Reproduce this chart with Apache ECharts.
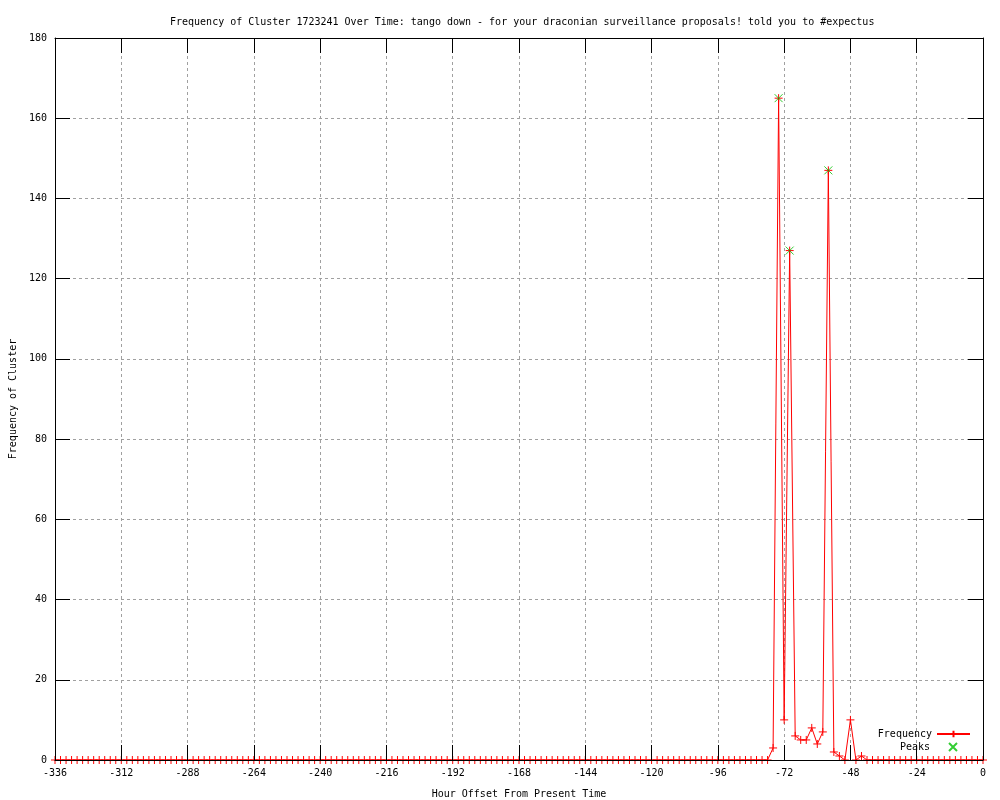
<!DOCTYPE html>
<html>
<head>
<meta charset="utf-8">
<script src="https://cdn.jsdelivr.net/npm/echarts@6/dist/echarts.min.js"></script>
<style>html,body{margin:0;padding:0;background:#fff}#c{width:1000px;height:800px}</style>
</head>
<body>
<div id="c"></div>
<script>
var titleText = 'Frequency of Cluster 1723241 Over Time: tango down - for your draconian surveillance proposals! told you to #expectus';
var hours = [-336,-334,-332,-330,-328,-326,-324,-322,-320,-318,-316,-314,-312,-310,-308,-306,-304,-302,-300,-298,-296,-294,-292,-290,-288,-286,-284,-282,-280,-278,-276,-274,-272,-270,-268,-266,-264,-262,-260,-258,-256,-254,-252,-250,-248,-246,-244,-242,-240,-238,-236,-234,-232,-230,-228,-226,-224,-222,-220,-218,-216,-214,-212,-210,-208,-206,-204,-202,-200,-198,-196,-194,-192,-190,-188,-186,-184,-182,-180,-178,-176,-174,-172,-170,-168,-166,-164,-162,-160,-158,-156,-154,-152,-150,-148,-146,-144,-142,-140,-138,-136,-134,-132,-130,-128,-126,-124,-122,-120,-118,-116,-114,-112,-110,-108,-106,-104,-102,-100,-98,-96,-94,-92,-90,-88,-86,-84,-82,-80,-78,-76,-74,-72,-70,-68,-66,-64,-62,-60,-58,-56,-54,-52,-50,-48,-46,-44,-42,-40,-38,-36,-34,-32,-30,-28,-26,-24,-22,-20,-18,-16,-14,-12,-10,-8,-6,-4,-2,0];
var frequency = [0,0,0,0,0,0,0,0,0,0,0,0,0,0,0,0,0,0,0,0,0,0,0,0,0,0,0,0,0,0,0,0,0,0,0,0,0,0,0,0,0,0,0,0,0,0,0,0,0,0,0,0,0,0,0,0,0,0,0,0,0,0,0,0,0,0,0,0,0,0,0,0,0,0,0,0,0,0,0,0,0,0,0,0,0,0,0,0,0,0,0,0,0,0,0,0,0,0,0,0,0,0,0,0,0,0,0,0,0,0,0,0,0,0,0,0,0,0,0,0,0,0,0,0,0,0,0,0,0,0,
  3,165,10,127,6,5,5,8,4,7,147,2,1,0,10,0,1,
  0,0,0,0,0,0,0,0,0,0,0,0,0,0,0,0,0,0,0,0,0,0];
var peakHours = [-74,-70,-56];
var peakValues = [165,127,147];
var xTicks = {min:-336, max:0, interval:24};
var yTicks = {min:0, max:180, interval:20};

var FONT = 'DejaVu Sans Mono';
var plusPath = 'path://M0,5L10,5M5,0L5,10';
var crossPath = 'path://M0,0L10,10M10,0L0,10';

var freqData = hours.map(function(h,i){return [h, frequency[i]];});
var peakData = peakHours.map(function(h,i){return [h, peakValues[i]];});

var chart = echarts.init(document.getElementById('c'), null, {renderer:'canvas'});
var tickStyle = {show:true, inside:true, length:15, lineStyle:{color:'#000', width:1}};
var lineStyleAx = {show:true, onZero:false, lineStyle:{color:'#000', width:1}};
var gridLine = {show:true, showMinLine:false, showMaxLine:false, lineStyle:{color:'#a0a0a0', type:[3,3], width:1}};
chart.setOption({
  animation:false,
  backgroundColor:'#fff',
  title:{text:titleText, left:165, top:12, textStyle:{fontFamily:FONT, fontSize:10, fontWeight:'normal', color:'#000'}},
  grid:{left:55, right:17, top:38, bottom:40, containLabel:false, outerBoundsMode:'none'},
  legend:[
    {data:[{name:'Frequency'}], orient:'vertical', right:24, top:724, align:'right', itemWidth:33, itemHeight:8,
     textStyle:{fontFamily:FONT, fontSize:10, color:'#000'}, selectedMode:false},
    {data:[{name:'Peaks', icon:crossPath}], orient:'vertical', right:37, top:737, align:'right', itemWidth:8, itemHeight:8,
     textStyle:{fontFamily:FONT, fontSize:10, color:'#000', padding:[0,14,0,0]}, selectedMode:false}
  ],
  xAxis:[
    {type:'value', position:'bottom', min:xTicks.min, max:xTicks.max, interval:xTicks.interval, z:10,
     name:'Hour Offset From Present Time', nameLocation:'middle', nameGap:29,
     nameTextStyle:{fontFamily:FONT, fontSize:10, color:'#000'},
     axisLine:lineStyleAx, axisTick:tickStyle, splitLine:{show:false},
     axisLabel:{fontFamily:FONT, fontSize:10, color:'#000', margin:8}},
    {type:'value', position:'top', min:xTicks.min, max:xTicks.max, interval:xTicks.interval, z:0,
     axisLine:lineStyleAx, axisTick:tickStyle, splitLine:gridLine, axisLabel:{show:false}}
  ],
  yAxis:[
    {type:'value', position:'left', min:yTicks.min, max:yTicks.max, interval:yTicks.interval, z:10,
     name:'Frequency of Cluster', nameLocation:'middle', nameGap:36, nameRotate:90,
     nameTextStyle:{fontFamily:FONT, fontSize:10, color:'#000'},
     axisLine:lineStyleAx, axisTick:tickStyle, splitLine:{show:false},
     axisLabel:{fontFamily:FONT, fontSize:10, color:'#000', margin:8}},
    {type:'value', position:'right', min:yTicks.min, max:yTicks.max, interval:yTicks.interval, z:0,
     axisLine:lineStyleAx, axisTick:tickStyle, splitLine:gridLine, axisLabel:{show:false}}
  ],
  series:[
    {name:'Frequency', type:'line', data:freqData, showAllSymbol:true, symbol:plusPath, symbolSize:8,
     lineStyle:{color:'#ff0000', width:1}, itemStyle:{color:'#ff0000', borderColor:'#ff0000', borderWidth:1},
     emphasis:{disabled:true}, z:3},
    {name:'Peaks', type:'scatter', data:peakData, symbol:crossPath, symbolSize:8,
     itemStyle:{color:'#00c000', borderColor:'#00c000', borderWidth:1}, emphasis:{disabled:true}, z:4}
  ]
});
</script>
</body>
</html>
